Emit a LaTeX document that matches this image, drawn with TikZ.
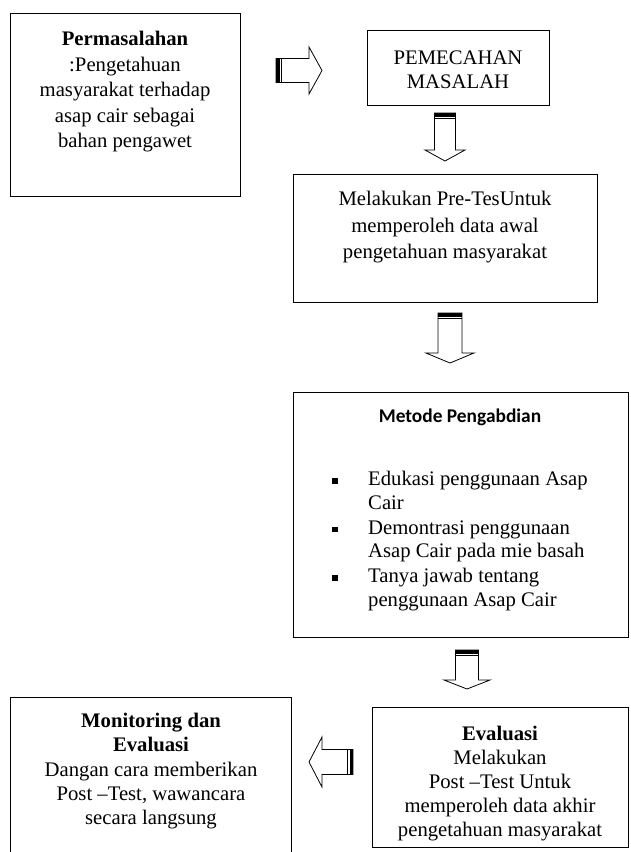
\documentclass[tikz,border=0pt]{standalone}
\usepackage{fontspec}
\setmainfont{Liberation Serif}
\newfontfamily\carlito{Carlito}
\usetikzlibrary{calc}
\tikzset{
  box/.style={draw=black, line width=0.9pt, rectangle, inner sep=0pt, anchor=north west},
  txt/.style={align=center, inner sep=0pt, anchor=north, font=\fontsize{20.7}{25.5}\selectfont},
  barr/.style={draw=black, line width=0.8pt, fill=white, line join=miter},
  barrstripe/.style={draw=black, line width=0.8pt},
}
% #1 tail point, #2 angle, #3 length, #4 half shaft, #5 half head, #6 head length
\newcommand{\blockarr}[6]{%
  \begin{scope}[shift={#1}, rotate=#2]
    \draw[barr] (0,-#4) -- ({#3-#6},-#4) -- ({#3-#6},-#5) -- (#3,0) -- ({#3-#6},#5) -- ({#3-#6},#4) -- (0,#4) -- cycle;
    \fill[black] (0,-#4) rectangle (3.5,#4);
    \draw[barrstripe] (5.6,-#4) -- (5.6,#4);
  \end{scope}}
\begin{document}
\begin{tikzpicture}[x=1pt,y=-1pt]
\useasboundingbox (0,0) rectangle (631,852);
\fill[white] (0,0) rectangle (631,852);
\clip (0,0) rectangle (631,852);

% boxes
\node[box, minimum width=230pt, minimum height=183pt] (prob) at (10,13) {};
\node[box, minimum width=182pt, minimum height=75pt] (pem) at (367,30) {};
\node[box, minimum width=304pt, minimum height=128pt] (pre) at (293,174) {};
\node[box, minimum width=335pt, minimum height=245pt] (met) at (293,392) {};
\node[box, minimum width=256pt, minimum height=140pt] (eva) at (372,707) {};
\node[box, minimum width=281pt, minimum height=175pt] (mon) at (10,697) {};

% texts
\node[txt] (tprob) at (125,31) {\textbf{Permasalahan}\\:Pengetahuan\\masyarakat terhadap\\asap cair sebagai\\bahan pengawet};
\node[txt, font=\fontsize{20.7}{24}\selectfont] (tpem) at (458,51) {PEMECAHAN\\MASALAH};
\node[txt, font=\fontsize{20.7}{26.5}\selectfont] (tpre) at (445,191) {Melakukan Pre-TesUntuk\\memperoleh data awal\\pengetahuan masyarakat};
\node[txt, font=\carlito\bfseries\fontsize{19.4}{23}\selectfont] (tmet) at (460,408.5) {Metode Pengabdian};
\node[txt, anchor=north west, align=left, font=\fontsize{20.7}{23.5}\selectfont] (tlist) at (332,471) {%
\makebox[36pt][l]{\raisebox{1.6pt}{\rule{5.5pt}{5.5pt}}}Edukasi penggunaan Asap\\
\hspace*{36pt}Cair\\[1.5pt]
\makebox[36pt][l]{\raisebox{1.6pt}{\rule{5.5pt}{5.5pt}}}Demontrasi penggunaan\\
\hspace*{36pt}Asap Cair pada mie basah\\[1.5pt]
\makebox[36pt][l]{\raisebox{1.6pt}{\rule{5.5pt}{5.5pt}}}Tanya jawab tentang\\
\hspace*{36pt}penggunaan Asap Cair};
\node[txt, font=\fontsize{20.7}{24}\selectfont] (teva) at (500,726) {\textbf{Evaluasi}\\Melakukan\\Post --Test Untuk\\memperoleh data akhir\\pengetahuan masyarakat};
\node[txt, font=\fontsize{20.7}{24.3}\selectfont] (tmon) at (151,713) {\textbf{Monitoring dan}\\\textbf{Evaluasi}\\Dangan cara memberikan\\Post --Test, wawancara\\secara langsung};

% block arrows
\blockarr{(276,70.5)}{0}{46}{12}{23.5}{13}
\blockarr{(445,113)}{-90}{48}{10.5}{20}{11}
\blockarr{(450,313)}{-90}{50}{12}{24}{10}
\blockarr{(467,650)}{-90}{39}{11.5}{23}{9}
\blockarr{(353,762)}{180}{44}{12.5}{25}{13}
\end{tikzpicture}
\end{document}
